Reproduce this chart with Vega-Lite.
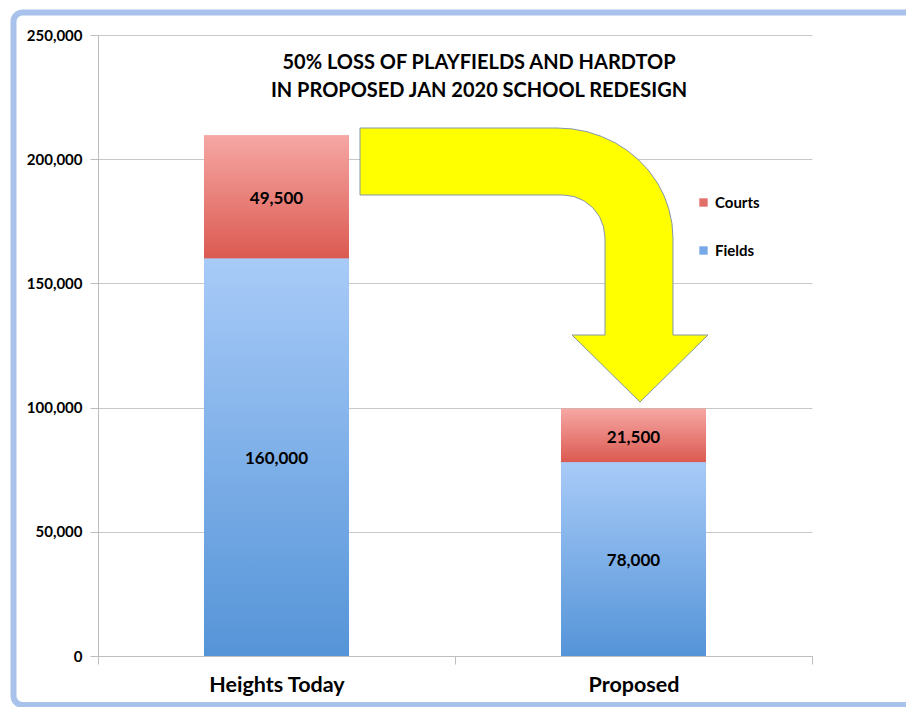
{
  "$schema": "https://vega.github.io/schema/vega-lite/v6.json",
  "autosize": {"type": "none"},
  "padding": {"left": 98, "top": 35, "right": 94, "bottom": 51},
  "width": 714,
  "height": 621,
  "background": "white",
  "title": {
    "text": ["50% LOSS OF PLAYFIELDS AND HARDTOP", "IN PROPOSED JAN 2020 SCHOOL REDESIGN"],
    "anchor": "middle",
    "offset": -91,
    "dx": 24,
    "font": "Lato",
    "fontSize": 20,
    "fontWeight": "bold",
    "color": "#000000",
    "lineHeight": 28
  },
  "config": {
    "view": {"stroke": null},
    "font": "Lato"
  },
  "datasets": {
    "bars": [
      {"category": "Heights Today", "series": "Fields", "value": 160000},
      {"category": "Heights Today", "series": "Courts", "value": 49500},
      {"category": "Proposed", "series": "Fields", "value": 78000},
      {"category": "Proposed", "series": "Courts", "value": 21500}
    ],
    "arrow": [
      {"i": 0, "ax": 0.7339, "ay": 212560},
      {"i": 1, "ax": 1.2857, "ay": 212560},
      {"i": 1.5, "ax": 1.3280, "ay": 212198},
      {"i": 2, "ax": 1.3697, "ay": 211071},
      {"i": 2.5, "ax": 1.4101, "ay": 209179},
      {"i": 3, "ax": 1.4482, "ay": 206642},
      {"i": 3.5, "ax": 1.4835, "ay": 203422},
      {"i": 4, "ax": 1.5154, "ay": 199597},
      {"i": 4.5, "ax": 1.5434, "ay": 195249},
      {"i": 5, "ax": 1.5672, "ay": 190418},
      {"i": 5.5, "ax": 1.5860, "ay": 185225},
      {"i": 6, "ax": 1.5994, "ay": 179750},
      {"i": 6.5, "ax": 1.6078, "ay": 174074},
      {"i": 7, "ax": 1.6106, "ay": 168277},
      {"i": 8, "ax": 1.6106, "ay": 129227},
      {"i": 9, "ax": 1.7087, "ay": 129227},
      {"i": 10, "ax": 1.5182, "ay": 102254},
      {"i": 11, "ax": 1.3277, "ay": 129227},
      {"i": 12, "ax": 1.4202, "ay": 129227},
      {"i": 13, "ax": 1.4202, "ay": 168277},
      {"i": 14, "ax": 1.4162, "ay": 172746},
      {"i": 15, "ax": 1.4045, "ay": 176932},
      {"i": 16, "ax": 1.3857, "ay": 180515},
      {"i": 17, "ax": 1.3613, "ay": 183253},
      {"i": 18, "ax": 1.3331, "ay": 184984},
      {"i": 19, "ax": 1.3025, "ay": 185588},
      {"i": 20, "ax": 0.7339, "ay": 185588},
      {"i": 21, "ax": 0.7339, "ay": 212560}
    ],
    "frame": [
      {"fx0": -0.2367, "fx1": 2.4, "fy0": 259055, "fy1": -19726}
    ]
  },
  "resolve": {"scale": {"x": "independent"}},
  "layer": [
    {
      "data": {"name": "bars"},
      "transform": [
        {"stack": "value", "groupby": ["category"], "sort": [{"field": "series", "order": "descending"}], "as": ["y0", "y1"]}
      ],
      "layer": [
        {
          "mark": {"type": "bar", "width": {"band": 0.406}},
          "encoding": {
            "x": {
              "field": "category", "type": "nominal",
              "scale": {"paddingInner": 0, "paddingOuter": 0},
              "axis": {
                "title": null, "labelAngle": 0, "labelFont": "Lato", "labelFontSize": 21.5, "labelFontWeight": "bold",
                "labelColor": "#000000", "domainColor": "#bdbdbd", "tickColor": "#bdbdbd", "tickSize": 8,
                "tickBand": "extent", "labelPadding": 10, "grid": false
              }
            },
            "y": {
              "field": "y1", "type": "quantitative",
              "scale": {"domain": [0, 250000], "nice": false},
              "axis": {
                "title": null, "values": [0, 50000, 100000, 150000, 200000, 250000],
                "labelExpr": "format(datum.value, ',')",
                "labelFont": "Lato", "labelFontSize": 15, "labelFontWeight": "bold", "labelColor": "#000000",
                "domainColor": "#bdbdbd", "tickColor": "#bdbdbd", "tickSize": 8, "labelPadding": 8,
                "gridColor": "#c8c8c8", "gridWidth": 1
              }
            },
            "y2": {"field": "y0"},
            "color": {
              "field": "series", "type": "nominal",
              "scale": {"domain": ["Courts", "Fields"], "range": ["#e2706a", "#77a9e8"]},
              "legend": {
                "title": null, "orient": "none", "legendX": 598, "legendY": 160,
                "symbolType": "square", "symbolSize": 70, "rowPadding": 32,
                "labelFont": "Lato", "labelFontSize": 15, "labelFontWeight": "bold", "labelColor": "#000000"
              }
            }
          }
        },
        {
          "transform": [{"filter": "datum.series === 'Courts'"}],
          "mark": {
            "type": "bar", "width": {"band": 0.406},
            "fill": {"gradient": "linear", "x1": 0, "y1": 0, "x2": 0, "y2": 1,
              "stops": [{"offset": 0, "color": "#f6a7a4"}, {"offset": 1, "color": "#db5a51"}]}
          },
          "encoding": {
            "x": {"field": "category", "type": "nominal"},
            "y": {"field": "y1", "type": "quantitative"},
            "y2": {"field": "y0"}
          }
        },
        {
          "transform": [{"filter": "datum.series === 'Fields'"}],
          "mark": {
            "type": "bar", "width": {"band": 0.406},
            "fill": {"gradient": "linear", "x1": 0, "y1": 0, "x2": 0, "y2": 1,
              "stops": [{"offset": 0, "color": "#a8cbf8"}, {"offset": 1, "color": "#5594d8"}]}
          },
          "encoding": {
            "x": {"field": "category", "type": "nominal"},
            "y": {"field": "y1", "type": "quantitative"},
            "y2": {"field": "y0"}
          }
        },
        {
          "transform": [{"calculate": "(datum.y0 + datum.y1) / 2", "as": "ymid"}],
          "mark": {"type": "text", "font": "Lato", "fontSize": 17, "fontWeight": "bold", "color": "#000000", "baseline": "middle", "dy": 2},
          "encoding": {
            "x": {"field": "category", "type": "nominal"},
            "y": {"field": "ymid", "type": "quantitative"},
            "text": {"field": "value", "type": "quantitative", "format": ","}
          }
        }
      ]
    },
    {
      "data": {"name": "arrow"},
      "mark": {"type": "line", "fill": "#ffff00", "stroke": "#8497a8", "strokeWidth": 1, "interpolate": "linear"},
      "encoding": {
        "x": {"field": "ax", "type": "quantitative", "scale": {"domain": [0, 2], "nice": false, "zero": false}, "axis": null},
        "y": {"field": "ay", "type": "quantitative"},
        "order": {"field": "i", "type": "quantitative"}
      }
    },
    {
      "data": {"name": "frame"},
      "mark": {"type": "rect", "fill": null, "fillOpacity": 0, "stroke": "#a9c2ec", "strokeWidth": 6, "cornerRadius": 9, "clip": false},
      "encoding": {
        "x": {"field": "fx0", "type": "quantitative", "scale": {"domain": [0, 2], "nice": false, "zero": false}, "axis": null},
        "x2": {"field": "fx1"},
        "y": {"field": "fy0", "type": "quantitative"},
        "y2": {"field": "fy1"}
      }
    }
  ]
}
